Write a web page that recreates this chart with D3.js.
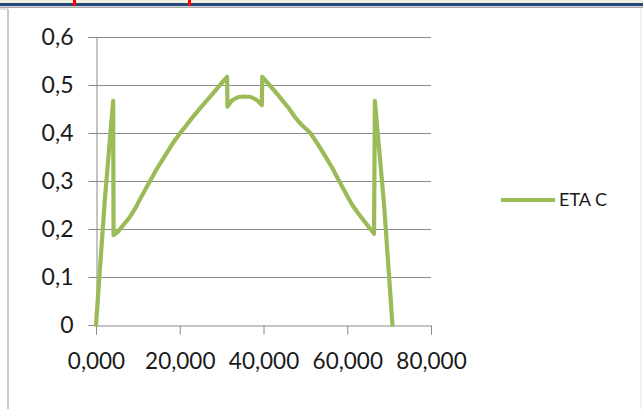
<!DOCTYPE html>
<html>
<head>
<meta charset="utf-8">
<script src="https://cdn.jsdelivr.net/npm/d3@7/dist/d3.min.js"></script>
<style>
  html, body { margin: 0; padding: 0; background: #ffffff; }
  svg { display: block; }
  text { font-family: Lato, "Open Sans", sans-serif; fill: #1a1a1a; }
</style>
</head>
<body>
<svg id="chart" width="643" height="409"></svg>
<script>
// ETA C series: position (x) and value (y)
const etaX = [0, 2.1, 4.1, 4.2, 5.3, 8.1, 9.5, 11.0, 12.9, 14.5, 16.5, 18.3, 20.1, 21.5, 23.0, 24.9, 26.5, 28.0, 29.6, 31.3,
              31.4, 32.5, 34.0, 35.5, 37.0, 38.5, 39.6, 39.7,
              41.4, 43.0, 44.5, 46.1, 47.5, 49.2, 51.2, 52.8, 54.6, 56.5, 58.0, 59.8, 61.2, 62.6, 66.4,
              66.6, 68.8, 70.8];
const etaY = [0, 0.26, 0.467, 0.187, 0.195, 0.225, 0.245, 0.270, 0.300, 0.325, 0.353, 0.378, 0.400, 0.415, 0.432, 0.452, 0.468, 0.483, 0.500, 0.517,
              0.455, 0.468, 0.475, 0.476, 0.475, 0.468, 0.458, 0.517,
              0.500, 0.484, 0.468, 0.451, 0.433, 0.416, 0.400, 0.379, 0.354, 0.326, 0.301, 0.272, 0.250, 0.233, 0.190,
              0.467, 0.250, 0];
const seriesName = "ETA C";
const xTicks = [0, 20, 40, 60, 80];
const yTicks = [0, 0.1, 0.2, 0.3, 0.4, 0.5, 0.6];

const svg = d3.select("#chart");
const W = 643, H = 409;

// window chrome around the chart
svg.append("rect").attr("x", 0).attr("y", 0).attr("width", W).attr("height", 3).attr("fill", "#eef1df");
svg.append("rect").attr("x", 0).attr("y", 3).attr("width", W).attr("height", 3).attr("fill", "#24497a");
svg.append("rect").attr("x", 0).attr("y", 6.5).attr("width", W).attr("height", 1.5).attr("fill", "#a8a8a8");
svg.append("rect").attr("x", 73).attr("y", 0).attr("width", 3).attr("height", 6).attr("fill", "#ff0000");
svg.append("rect").attr("x", 188).attr("y", 0).attr("width", 3).attr("height", 6).attr("fill", "#ff0000");
svg.append("line").attr("x1", 8).attr("x2", 8).attr("y1", 9).attr("y2", H)
  .attr("stroke", "#b8b8b8").attr("stroke-width", 1.5);
svg.append("line").attr("x1", 0).attr("x2", 8).attr("y1", 9).attr("y2", 9)
  .attr("stroke", "#c8c8c8").attr("stroke-width", 1);
svg.append("line").attr("x1", 641).attr("x2", 641).attr("y1", 9).attr("y2", H)
  .attr("stroke", "#e4e4e4").attr("stroke-width", 1);

const x = d3.scaleLinear().domain([0, 80]).range([96, 431]);
const y = d3.scaleLinear().domain([0, 0.6]).range([325, 37]);

const loc = d3.formatLocale({ decimal: ",", thousands: ".", grouping: [3], currency: ["", ""] });
const fx = loc.format(".3f");
const fy1 = loc.format(".1f");
const fy = d => d === 0 ? "0" : fy1(d);

const gridColor = "#8a8a8a";

// horizontal gridlines
svg.append("g").selectAll("line").data(yTicks.filter(d => d > 0)).join("line")
  .attr("x1", x(0)).attr("x2", x(80))
  .attr("y1", d => Math.round(y(d)) + 0.5).attr("y2", d => Math.round(y(d)) + 0.5)
  .attr("stroke", gridColor).attr("stroke-width", 1);

// y axis
const yAxis = svg.append("g").attr("transform", `translate(${x(0) + 0.5},0)`)
  .call(d3.axisLeft(y).tickValues(yTicks).tickFormat(fy).tickSize(8).tickPadding(15));
yAxis.select(".domain").attr("stroke", gridColor);
yAxis.selectAll(".tick line").attr("stroke", gridColor);
yAxis.selectAll(".tick text").attr("font-size", 23).attr("fill", "#1a1a1a")
  .attr("font-family", "Lato, 'Open Sans', sans-serif");

// x axis
const xAxis = svg.append("g").attr("transform", `translate(0,${Math.round(y(0)) + 0.5})`)
  .call(d3.axisBottom(x).tickValues(xTicks).tickFormat(d => fx(d)).tickSize(9).tickPadding(19));
xAxis.select(".domain").attr("stroke", gridColor);
xAxis.selectAll(".tick line").attr("stroke", gridColor);
xAxis.selectAll(".tick text").attr("font-size", 22.5).attr("fill", "#1a1a1a")
  .attr("font-family", "Lato, 'Open Sans', sans-serif");

// series line
const pts = etaX.map((v, i) => [v, etaY[i]]);
const line = d3.line().x(d => x(d[0])).y(d => y(d[1]));
svg.append("path").datum(pts).attr("d", line)
  .attr("fill", "none").attr("stroke", "#9bbb59").attr("stroke-width", 4.2)
  .attr("stroke-linejoin", "round").attr("stroke-linecap", "round");

// legend
svg.append("line").attr("x1", 501).attr("x2", 555).attr("y1", 200).attr("y2", 200)
  .attr("stroke", "#9bbb59").attr("stroke-width", 4);
svg.append("text").attr("x", 559).attr("y", 200).attr("dy", "0.36em")
  .attr("font-size", 18).text(seriesName);
</script>
</body>
</html>
